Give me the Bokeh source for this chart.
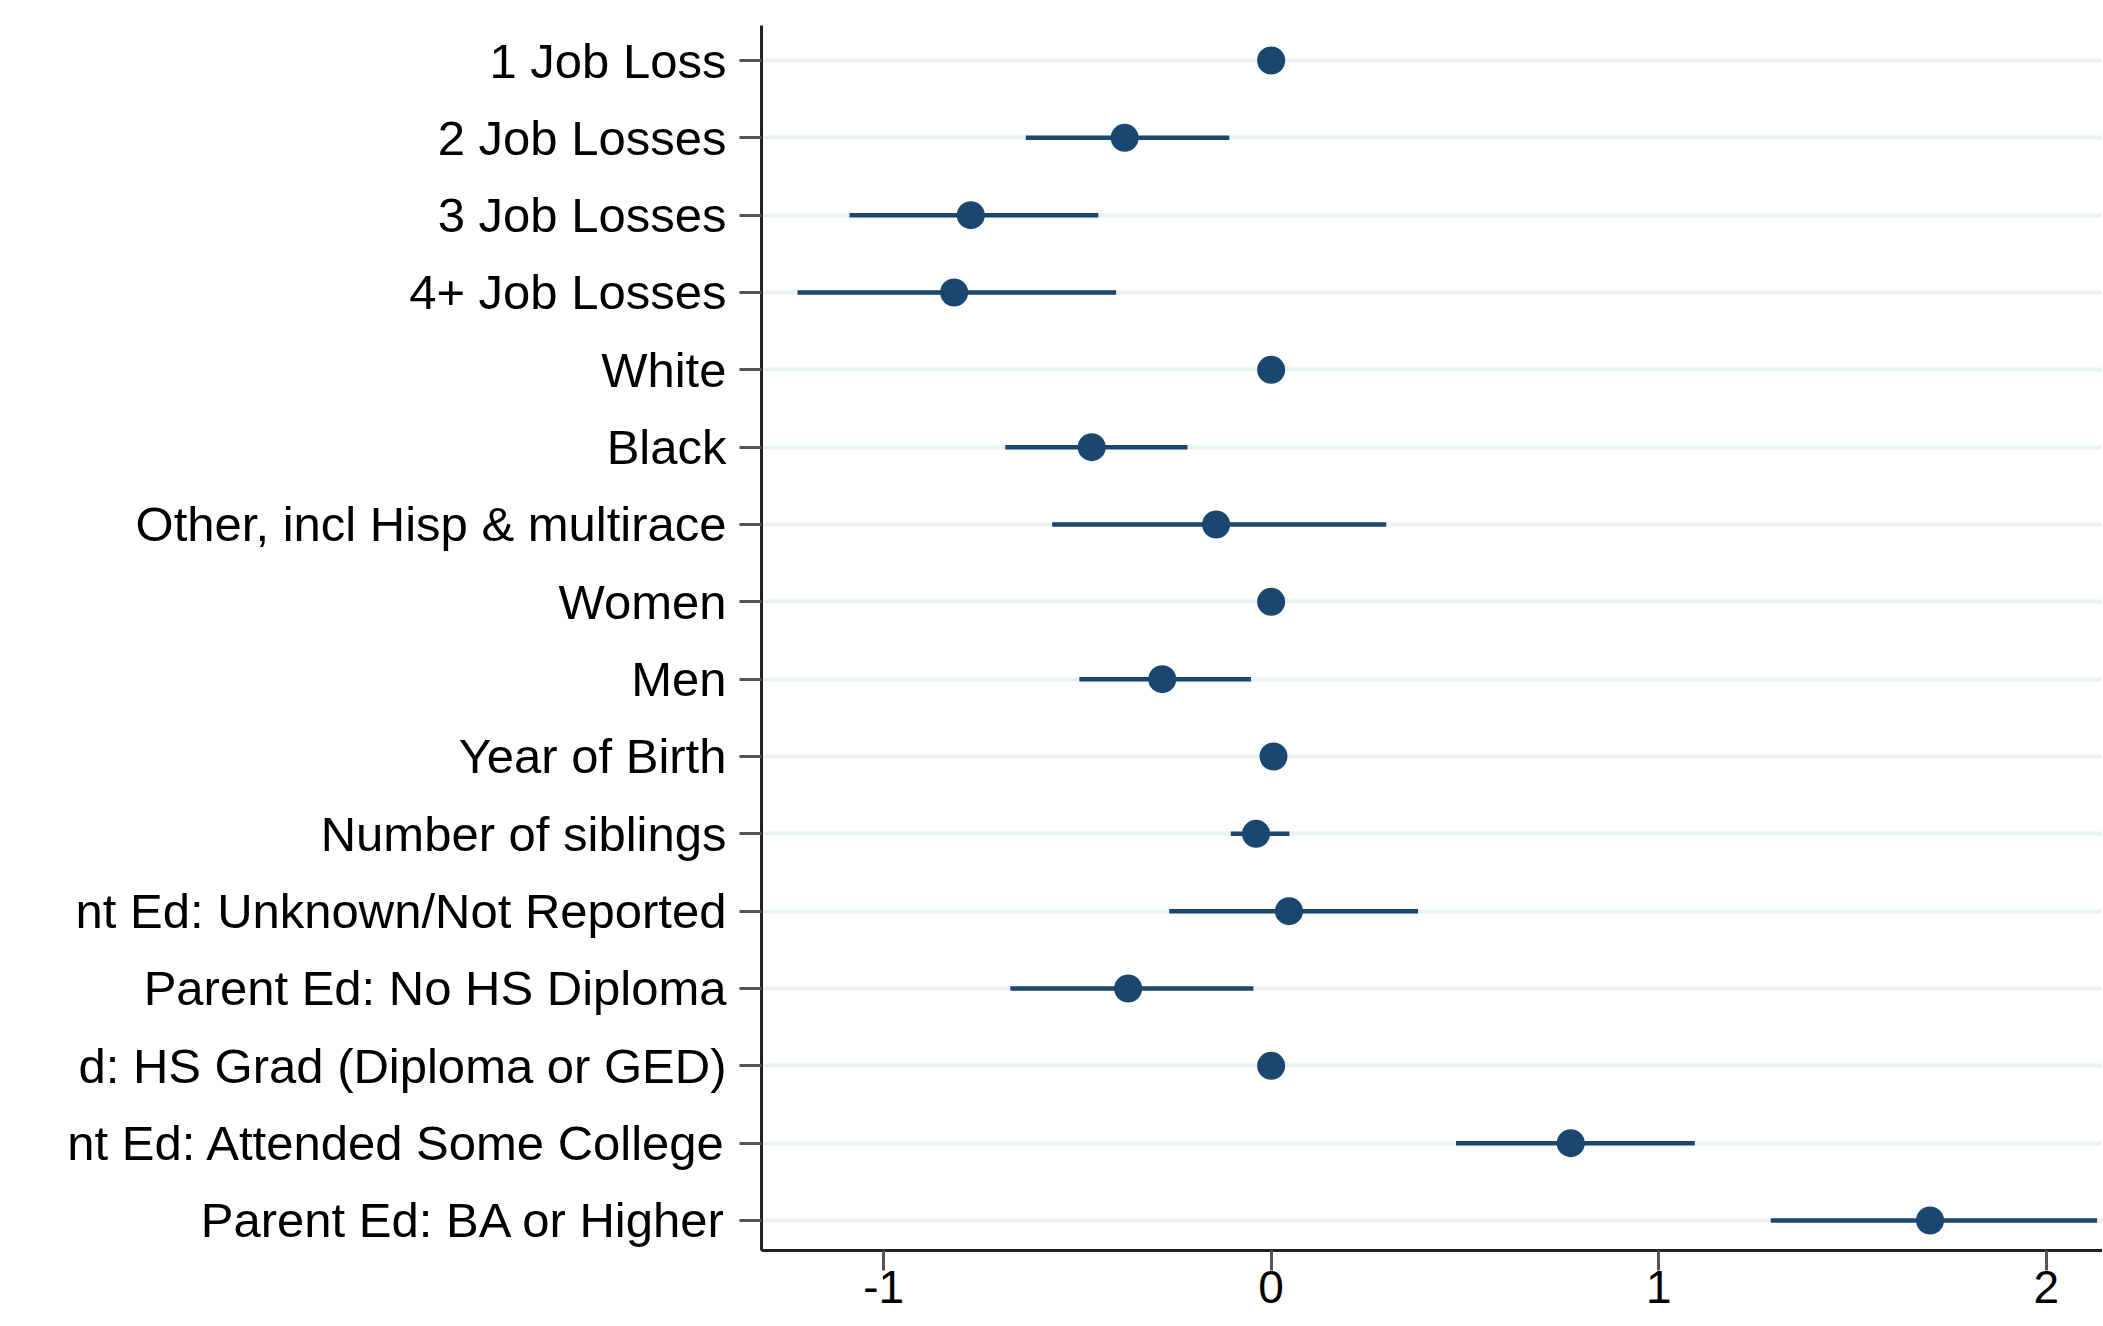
from bokeh.plotting import figure
from bokeh.models import ColumnDataSource, Range1d, FixedTicker
from bokeh.embed import file_html
from bokeh.resources import INLINE

# ---- data ----
categories = [
    "1 Job Loss",
    "2 Job Losses",
    "3 Job Losses",
    "4+ Job Losses",
    "White",
    "Black",
    "Other, incl Hisp & multirace",
    "Women",
    "Men",
    "Year of Birth",
    "Number of siblings",
    "nt Ed: Unknown/Not Reported",
    "Parent Ed: No HS Diploma",
    "d: HS Grad (Diploma or GED)",
    "nt Ed: Attended Some College",
    "Parent Ed: BA or Higher",
]
estimates = [0.0, -0.378, -0.775, -0.818, 0.0, -0.463, -0.142, 0.0, -0.281, 0.006,
             -0.039, 0.046, -0.369, 0.0, 0.773, 1.700]
ci_low = [0.0, -0.633, -1.088, -1.222, 0.0, -0.686, -0.565, 0.0, -0.495, 0.0,
          -0.104, -0.263, -0.673, 0.0, 0.477, 1.289]
ci_high = [0.0, -0.108, -0.446, -0.400, 0.0, -0.216, 0.297, 0.0, -0.052, 0.012,
           0.047, 0.379, -0.046, 0.0, 1.093, 2.131]
x_ticks = [-1, 0, 1, 2]
x_tick_labels = ["-1", "0", "1", "2"]

positions = list(range(len(categories)))
src = ColumnDataSource(dict(pos=positions, est=estimates, lo=ci_low, hi=ci_high))

NAVY = "#1a476f"
FONT = "Liberation Sans"

p = figure(width=2102, height=1325, output_backend="svg", toolbar_location=None,
           x_range=Range1d(-1.315, 2.145), y_range=Range1d(15.388, -0.4526),
           min_border_left=761, min_border_top=25, min_border_right=0, min_border_bottom=75)
p.outline_line_color = None
p.background_fill_color = "white"
p.border_fill_color = "white"

p.segment(x0="lo", y0="pos", x1="hi", y1="pos", source=src, line_color=NAVY,
          line_width=4.5, line_cap="butt")
p.scatter(x="est", y="pos", source=src, size=28, fill_color=NAVY, line_color=NAVY,
          line_width=0)

# y axis
p.yaxis.ticker = FixedTicker(ticks=positions, minor_ticks=[])
p.yaxis.major_label_overrides = {i: c for i, c in enumerate(categories)}
p.yaxis.major_label_text_font = FONT
p.yaxis.major_label_text_font_size = "49px"
p.yaxis.major_label_text_color = "black"
p.yaxis.major_label_standoff = 13
p.yaxis.major_tick_out = 22
p.yaxis.major_tick_in = 0
p.yaxis.major_tick_line_width = 3
p.yaxis.major_tick_line_color = "#555555"
p.yaxis.minor_tick_line_color = None
p.yaxis.axis_line_width = 3
p.yaxis.axis_line_color = "#222222"

# x axis
p.xaxis.ticker = FixedTicker(ticks=x_ticks, minor_ticks=[])
p.xaxis.major_label_overrides = {float(t): l for t, l in zip(x_ticks, x_tick_labels)}
p.xaxis.major_label_text_font = FONT
p.xaxis.major_label_text_font_size = "46px"
p.xaxis.major_label_text_color = "black"
p.xaxis.major_label_standoff = 0
p.xaxis.major_tick_out = 20
p.xaxis.major_tick_in = 0
p.xaxis.major_tick_line_width = 3
p.xaxis.major_tick_line_color = "#555555"
p.xaxis.minor_tick_line_color = None
p.xaxis.axis_line_width = 3
p.xaxis.axis_line_color = "#222222"

# grid
p.xgrid.visible = False
p.ygrid.ticker = FixedTicker(ticks=positions, minor_ticks=[])
p.ygrid.grid_line_color = "#eaf2f3"
p.ygrid.grid_line_width = 4

open("out.html", "w").write(file_html(p, INLINE))
